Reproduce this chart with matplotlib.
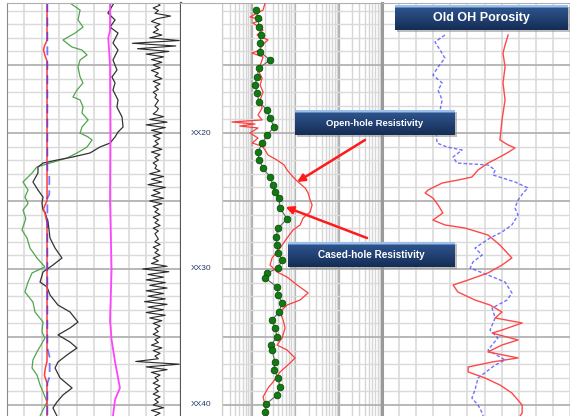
import numpy as np
import matplotlib
matplotlib.use("Agg")
import matplotlib.pyplot as plt
from matplotlib.patches import Rectangle
from matplotlib.ticker import MultipleLocator, LogLocator, NullFormatter

# ---------------- depth window ----------------
DEPTH_TOP, DEPTH_BOTTOM = 10.44, 40.81
depth_ticks = [20, 30, 40]
depth_labels = ["XX20", "XX30", "XX40"]

# ---------------- track 1 (linear 0-100) ----------------
gr_depth = [10.44, 10.96, 11.69, 12.21, 12.65, 13.16, 13.46, 13.68, 13.90, 14.26,
            14.63, 15.15, 15.88, 16.32, 16.84, 17.35, 17.57, 18.09, 18.53, 19.04,
            19.56, 20.00, 20.29, 20.51, 21.03, 21.47, 21.84, 22.21, 22.50, 22.94,
            23.60, 24.19, 24.71, 25.15, 25.29, 25.66, 26.30, 27.13, 27.72, 28.46,
            29.19, 29.85, 30.29, 30.96, 31.69, 32.43, 33.16, 33.90, 34.63, 35.07,
            35.60, 36.10, 36.69, 37.28, 37.79, 38.53, 39.04, 39.78, 40.51, 40.81]
gr_value = [36.2, 42.0, 40.8, 43.7, 39.1, 32.2, 35.1, 37.4, 43.1, 46.0,
            42.0, 40.8, 42.0, 43.7, 40.2, 37.9, 42.0, 43.7, 43.1, 46.6,
            43.1, 42.0, 46.6, 48.9, 46.0, 40.2, 34.5, 24.7, 17.2, 14.4,
            9.2, 12.1, 10.3, 12.1, 11.5, 9.2, 10.8, 8.6, 11.5, 13.2,
            17.2, 21.8, 14.4, 12.1, 10.3, 14.9, 16.1, 20.7, 20.1, 21.8,
            19.5, 17.2, 14.9, 14.4, 17.2, 19.0, 20.7, 23.0, 20.1, 19.0]

blk_depth = [10.44, 11.18, 11.69, 12.21, 12.65, 13.38, 13.90, 14.63, 15.37, 15.88,
             16.32, 16.84, 17.57, 18.09, 18.82, 19.56, 19.93, 20.29, 20.74, 21.03,
             21.47, 21.76, 21.99, 22.21, 22.50, 22.94, 23.60, 24.19, 24.71, 25.15,
             25.66, 25.81, 26.54, 27.72, 28.46, 29.19, 29.71, 30.22, 30.96, 31.32,
             31.91, 32.65, 33.16, 33.90, 34.34, 34.85, 35.37, 35.81, 36.32, 36.84,
             37.28, 38.01, 38.75, 39.26, 39.78, 40.22, 40.81]
blk_value = [61.5, 58.0, 62.1, 59.2, 63.8, 60.9, 63.8, 60.9, 63.2, 60.3,
             62.1, 60.9, 63.8, 63.2, 66.1, 66.7, 63.8, 62.1, 59.2, 53.4,
             47.7, 37.9, 28.7, 20.7, 17.8, 17.8, 14.9, 17.8, 20.7, 20.1,
             20.7, 21.8, 23.6, 24.7, 27.6, 31.6, 26.4, 20.7, 19.0, 23.0,
             24.7, 29.3, 36.2, 40.8, 36.2, 29.3, 36.2, 40.2, 34.5, 29.3,
             27.6, 30.5, 37.4, 32.2, 28.7, 26.4, 28.7]

mag_depth = [10.44, 12.5, 13.0, 15.0, 20.0, 24.9, 30.07, 33.75, 35.2, 36.84, 38.75, 39.6, 40.81]
mag_value = [59.2, 59.2, 58.2, 59.2, 59.4, 59.2, 60.1, 59.2, 60.1, 62.1, 64.9, 62.1, 60.9]

bit_depth = [10.44, 13.2, 13.6, 13.9, 14.3, 14.7, 25.0, 25.3, 25.6, 26.0, 26.6,
             36.8, 37.3, 37.8, 38.4, 40.81]
bit_value = [23.0, 23.0, 21.5, 21.0, 21.8, 23.0, 23.0, 21.8, 21.0, 22.0, 23.0,
             23.0, 22.0, 21.5, 23.0, 23.0]

cal_depth = [10.44, 20.5, 22.7, 23.0, 24.5, 24.8, 25.6, 35.8, 36.5, 37.9, 38.4, 40.81]
cal_value = [23.2, 23.2, 23.2, 24.3, 24.3, 23.2, 23.2, 23.2, 24.5, 24.5, 23.2, 23.2]

# high-frequency curve, sampled every 0.2 from 10.4 to 40.8
noisy_value = [86, 88, 84, 87, 85, 94, 86, 83, 88, 85, 87, 84, 89, 82, 99, 72, 97, 75, 93, 80,
               90, 83, 89, 84, 88, 83, 87, 85, 89, 84, 88, 85, 87, 84, 86, 85, 87, 86, 85, 87,
               86, 84, 90, 82, 92, 80, 91, 83, 89, 84, 88, 85, 87, 84, 89, 83, 88, 85, 87, 84,
               86, 85, 88, 82, 90, 83, 89, 81, 91, 84, 88, 83, 90, 82, 89, 84, 87, 85, 88, 84,
               87, 85, 88, 84, 87, 85, 86, 87, 85, 88, 84, 87, 85, 88, 84, 87, 83, 92, 78, 93,
               81, 90, 80, 91, 82, 92, 80, 90, 81, 91, 79, 92, 81, 90, 80, 91, 82, 89, 84, 88,
               85, 87, 84, 88, 85, 87, 83, 89, 84, 88, 85, 87, 74, 99, 80, 92, 83, 88, 85, 87,
               84, 88, 85, 87, 84, 88, 85, 87, 84, 90, 83, 88, 85]
noisy_depth = np.linspace(10.4, 10.4 + 0.2 * (len(noisy_value) - 1), len(noisy_value))

# ---------------- track 3 (log resistivity) ----------------
ch_depth = [10.96, 11.54, 12.21, 12.79, 13.38, 14.04, 14.63, 15.22, 15.88, 16.47,
            17.06, 17.72, 18.31, 18.90, 19.56, 20.15, 20.74, 21.40, 21.99, 22.57,
            23.24, 23.82, 24.34, 24.78, 25.51, 26.32, 26.99, 27.65, 28.24, 28.82,
            29.34, 29.93, 30.29, 30.66, 31.32, 31.91, 32.50, 33.16, 33.75, 34.34,
            35.00, 35.59, 35.96, 36.84, 37.43, 38.01, 38.68, 39.26, 39.93, 40.51]
ch_res = [1.22, 1.36, 1.44, 1.60, 1.52, 1.52, 2.58, 1.44, 1.29, 1.16,
          1.29, 1.44, 2.20, 2.58, 3.20, 2.20, 1.69, 1.36, 1.44, 1.78,
          2.58, 3.03, 3.37, 4.17, 4.40, 6.39, 3.96, 3.56, 3.75, 3.96,
          4.89, 3.96, 2.20, 1.98, 3.75, 3.96, 4.89, 4.17, 2.87, 3.37,
          3.75, 2.72, 2.87, 3.37, 3.20, 3.96, 4.40, 3.75, 2.09, 1.98]

oh_depth = [10.44, 10.96, 11.47, 11.69, 11.91, 12.43, 12.79, 13.16, 13.53, 13.90,
            14.12, 14.41, 14.85, 15.37, 15.96, 16.47, 16.99, 17.57, 18.16, 18.68,
            19.04, 19.19, 19.34, 19.49, 19.63, 20.00, 20.37, 20.74, 20.96, 21.25,
            21.62, 21.99, 22.35, 22.72, 23.24, 23.60, 24.04, 24.41, 24.93, 25.29,
            25.81, 26.25, 26.76, 27.13, 27.72, 28.46, 29.19, 29.71, 30.22, 30.59,
            31.18, 31.76, 32.28, 32.65, 33.16, 33.75, 34.34, 35.07, 35.59, 35.96,
            36.54, 36.91, 37.57, 38.31, 38.75, 39.41, 40.00, 40.81]
oh_res = [1.98, 1.78, 0.89, 1.69, 1.04, 1.78, 1.29, 2.32, 1.69, 1.52,
          0.99, 1.78, 1.60, 1.36, 1.69, 1.52, 1.78, 1.52, 1.69, 1.36,
          1.69, 0.34, 1.16, 0.52, 1.36, 0.89, 1.36, 1.00, 1.69, 1.98,
          2.32, 3.75, 5.45, 6.39, 8.80, 11.5, 16.7, 19.6, 21.8, 24.2,
          21.8, 15.0, 12.8, 8.80, 6.39, 4.40, 2.87, 2.58, 3.75, 6.39,
          10.9, 19.6, 12.8, 6.39, 4.40, 5.17, 5.75, 4.89, 3.75, 6.39,
          9.78, 7.50, 4.40, 3.03, 2.32, 1.78, 1.98, 2.20]

# ---------------- track 4 (porosity, reversed) ----------------
por_b_depth = [12.79, 13.31, 13.90, 14.49, 15.15, 15.74, 16.32, 16.84, 17.57, 18.31,
               19.04, 19.78, 20.74, 21.03, 21.25, 21.76, 22.21, 22.35, 22.72, 23.09,
               23.60, 24.04, 24.41, 24.93, 25.51, 26.03, 26.76, 27.28, 27.72, 28.46,
               28.97, 29.49, 29.93, 30.44, 30.96, 31.76, 32.28, 32.87, 33.60, 34.49,
               35.07, 35.96, 36.69, 37.06, 38.01, 38.90, 39.49, 40.00, 40.59, 40.81]
por_b_value = [0.266, 0.295, 0.280, 0.266, 0.286, 0.301, 0.274, 0.286, 0.274, 0.280,
               0.286, 0.292, 0.289, 0.260, 0.216, 0.242, 0.231, 0.140, 0.119, 0.125,
               0.061, 0.023, 0.037, 0.052, 0.061, 0.052, 0.070, 0.099, 0.134, 0.178,
               0.157, 0.184, 0.192, 0.140, 0.090, 0.070, 0.084, 0.128, 0.119, 0.134,
               0.111, 0.140, 0.090, 0.119, 0.169, 0.178, 0.187, 0.169, 0.157, 0.154]

por_r_depth = [12.79, 13.53, 14.12, 15.15, 16.32, 17.57, 19.04, 20.51, 20.88, 21.10,
               21.47, 21.84, 22.21, 22.72, 23.24, 23.46, 23.68, 24.19, 24.41, 24.78,
               25.29, 25.88, 26.40, 26.76, 26.99, 27.50, 28.24, 29.19, 29.71, 30.29,
               30.81, 31.18, 31.69, 32.28, 32.65, 33.16, 33.60, 33.97, 34.49, 34.71,
               35.22, 35.59, 36.10, 36.54, 36.84, 37.21, 37.57, 38.01, 38.53, 39.12,
               40.00, 40.59, 40.81]
por_r_value = [0.081, 0.090, 0.096, 0.090, 0.096, 0.090, 0.099, 0.105, 0.081, 0.061,
               0.084, 0.111, 0.140, 0.169, 0.187, 0.228, 0.274, 0.315, 0.324, 0.301,
               0.286, 0.272, 0.301, 0.266, 0.207, 0.140, 0.105, 0.070, 0.099, 0.140,
               0.198, 0.242, 0.228, 0.178, 0.134, 0.099, 0.119, 0.040, 0.099, 0.128,
               0.052, 0.099, 0.140, 0.052, 0.128, 0.198, 0.198, 0.149, 0.105, 0.070,
               0.040, 0.040, 0.046]

# ---------------- figure layout ----------------
W, H = 570, 416
fig = plt.figure(figsize=(W / 100, H / 100), dpi=100)
fig.patch.set_facecolor("white")


def track_rect(x0, x1, top=3, bottom=416):
    return [x0 / W, 1 - bottom / H, (x1 - x0) / W, (bottom - top) / H]


GRID_MINOR = "#dadada"
GRID_MAJOR = "#b2b2b2"


def style_track(ax):
    ax.set_ylim(DEPTH_BOTTOM, DEPTH_TOP)
    ax.yaxis.set_major_locator(MultipleLocator(5))
    ax.yaxis.set_minor_locator(MultipleLocator(1))
    ax.grid(which="minor", axis="y", color=GRID_MINOR, lw=1.0)
    ax.grid(which="major", axis="y", color=GRID_MAJOR, lw=1.3)
    ax.set_axisbelow(True)
    ax.tick_params(which="both", length=0, labelbottom=False, labelleft=False)
    for s in ax.spines.values():
        s.set_visible(False)
    ax.spines["top"].set_visible(True)
    ax.spines["top"].set_color("#b0b0b0")


ax1 = fig.add_axes(track_rect(7, 181))
axd = fig.add_axes(track_rect(181, 222))
ax3 = fig.add_axes(track_rect(222, 382))
ax4 = fig.add_axes(track_rect(382, 570))

# track 1
style_track(ax1)
ax1.set_xlim(0, 100)
ax1.xaxis.set_major_locator(MultipleLocator(10))
ax1.grid(which="major", axis="x", color=GRID_MINOR, lw=1.2)
ax1.spines["left"].set_visible(True)
ax1.spines["left"].set_color("#8a8a8a")
ax1.spines["right"].set_visible(True)
ax1.spines["right"].set_color("#555555")
ax1.spines["right"].set_linewidth(1.6)

ax1.plot(gr_value, gr_depth, color="#4fa54f", lw=0.9)
ax1.plot(blk_value, blk_depth, color="#333333", lw=0.9)
ax1.plot(mag_value, mag_depth, color="#ff44ff", lw=1.3)
ax1.plot(noisy_value, noisy_depth, color="#2a2a2a", lw=0.8)
ax1.plot(bit_value, bit_depth, color="#ff3a3a", lw=1.1)
ax1.plot(cal_value, cal_depth, color="#3030ff", lw=1.3, alpha=0.65,
         dashes=(5, 3))

# depth track
axd.set_ylim(DEPTH_BOTTOM, DEPTH_TOP)
axd.set_xlim(0, 1)
axd.tick_params(which="both", length=0, labelbottom=False, labelleft=False)
for s in axd.spines.values():
    s.set_visible(False)
axd.spines["top"].set_visible(True)
axd.spines["top"].set_color("#b0b0b0")
for d, lab in zip(depth_ticks, depth_labels):
    axd.text(0.5, d, lab, ha="center", va="center", fontsize=6,
             color="#243a66", family="Liberation Sans")

# track 3: log resistivity
style_track(ax3)
ax3.set_xscale("log")
ax3.set_xlim(0.2, 1000)
ax3.xaxis.set_major_locator(LogLocator(base=10, numticks=10))
ax3.xaxis.set_minor_locator(LogLocator(base=10, subs=np.arange(2, 10), numticks=20))
ax3.xaxis.set_minor_formatter(NullFormatter())
ax3.grid(which="minor", axis="x", color="#d6d6d6", lw=1.0)
ax3.grid(which="major", axis="x", color="#b0b0b0", lw=1.6)
ax3.spines["left"].set_visible(True)
ax3.spines["left"].set_color("#cccccc")

ax3.plot(oh_res, oh_depth, color="#ff3c3c", lw=0.9, zorder=3)
ax3.plot(ch_res, ch_depth, color="#666666", lw=0.8, zorder=4)
ax3.plot(ch_res, ch_depth, ls="none", marker="o", ms=4.8,
         mfc="#117a11", mec="#0a4f0a", mew=0.6, zorder=5)

# track 4: porosity
style_track(ax4)
ax4.set_xlim(0.45, -0.10)
ax4.xaxis.set_major_locator(MultipleLocator(0.05))
ax4.grid(which="major", axis="x", color=GRID_MINOR, lw=1.2)
ax4.spines["left"].set_visible(True)
ax4.spines["left"].set_color("#9a9a9a")
ax4.spines["left"].set_linewidth(2.2)

ax4.plot(por_b_value, por_b_depth, color="#5050ff", lw=1.0, alpha=0.8,
         dashes=(2.5, 1.5))
ax4.plot(por_r_value, por_r_depth, color="#ff4848", lw=1.0)

# ---------------- overlay: banners and arrows ----------------
ov = fig.add_axes([0, 0, 1, 1])
ov.set_xlim(0, W)
ov.set_ylim(H, 0)
ov.axis("off")
ov.set_autoscale_on(False)

top_col = np.array([0x9c, 0xc0, 0xec]) / 255
mid_col = np.array([0x2c, 0x52, 0x8a]) / 255
bot_col = np.array([0x15, 0x2d, 0x55]) / 255


def banner(x0, y0, x1, y1, text, size):
    ov.add_patch(Rectangle((x0 + 2, y0 + 2), x1 - x0, y1 - y0,
                           color="#8c8c8c", alpha=0.55, lw=0, zorder=1))
    n = 40
    rows = []
    for i in range(n):
        t = i / (n - 1)
        if t < 0.08:
            c = top_col
        elif t < 0.14:
            c = mid_col
        else:
            c = mid_col + (bot_col - mid_col) * (t - 0.14) / 0.86
        rows.append(c)
    grad = np.array(rows)[:, None, :]
    ov.imshow(grad, extent=(x0, x1, y1, y0), aspect="auto", zorder=2,
              interpolation="bilinear")
    ov.text((x0 + x1) / 2, (y0 + y1) / 2 + 0.5, text, ha="center", va="center",
            color="white", fontsize=size, fontweight="bold",
            family="Liberation Sans", zorder=3)


banner(395, 5, 568, 30, "Old OH Porosity", 9)
banner(295, 110, 455, 135, "Open-hole Resistivity", 6.8)
banner(288, 242, 455, 267, "Cased-hole Resistivity", 7.2)

arrow_kw = dict(arrowstyle="-|>", color="#ff1a1a", lw=1.8, mutation_scale=11,
                shrinkA=0, shrinkB=0)
ov.annotate("", xy=(10.9, 23.60), xycoords=ax3.transData,
            xytext=(365, 140), textcoords="data", arrowprops=arrow_kw, zorder=4)
ov.annotate("", xy=(5.9, 25.44), xycoords=ax3.transData,
            xytext=(367, 238), textcoords="data", arrowprops=arrow_kw, zorder=4)
ov.set_xlim(0, W)
ov.set_ylim(H, 0)

fig.savefig("out.png", dpi=100, facecolor="white")
